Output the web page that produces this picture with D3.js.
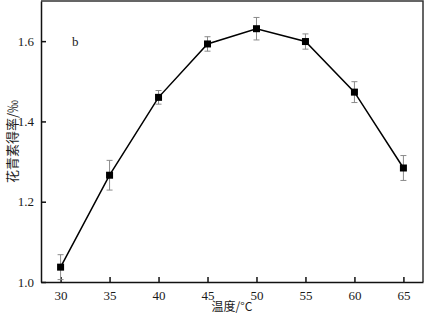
<!DOCTYPE html>
<html>
<head>
<meta charset="utf-8">
<script src="https://cdn.jsdelivr.net/npm/d3@7"></script>
<style>
  body { margin: 0; background: #fff; }
</style>
</head>
<body>
<svg id="chart" width="425" height="316"></svg>
<script>
// temperature (°C) vs anthocyanin yield (‰)
var temps = [30, 35, 40, 45, 50, 55, 60, 65];
var yields = [1.037, 1.266, 1.460, 1.593, 1.631, 1.599, 1.473, 1.284];
var errs = [0.031, 0.037, 0.017, 0.018, 0.028, 0.019, 0.026, 0.031];
var xTicks = [30, 35, 40, 45, 50, 55, 60, 65];
var yTicks = [1.0, 1.2, 1.4, 1.6];

var serif = "'Liberation Serif', 'DejaVu Serif', serif";
var cjk = "'Noto Sans CJK SC', 'Liberation Serif', serif";

var margin = {top: 1, right: 2, bottom: 34, left: 41};
var width = 425 - margin.left - margin.right,
    height = 316 - margin.top - margin.bottom;

var svg = d3.select("#chart");
var g = svg.append("g").attr("transform", "translate(" + margin.left + "," + margin.top + ")");

var x = d3.scaleLinear().domain([28, 67]).range([0, width]);
var y = d3.scaleLinear().domain([1.0, 1.7]).range([height, 0]);

var data = temps.map(function(t, i) { return {t: t, v: yields[i], e: errs[i]}; });

// frame (top + right)
g.append("path")
  .attr("d", "M0,0H" + width + "V" + height)
  .attr("fill", "none")
  .attr("stroke", "#333")
  .attr("stroke-width", 1.5);

// axes, ticks pointing inward
var xAxis = g.append("g")
  .attr("transform", "translate(0," + height + ")")
  .call(d3.axisBottom(x).tickValues(xTicks).tickSizeInner(-5).tickSizeOuter(0).tickPadding(9));
var yAxis = g.append("g")
  .call(d3.axisLeft(y).tickValues(yTicks).tickSizeInner(-5).tickSizeOuter(0).tickPadding(7)
    .tickFormat(d3.format(".1f")));

[xAxis, yAxis].forEach(function(a) {
  a.select(".domain").attr("stroke", "#111").attr("stroke-width", 1.5);
  a.selectAll(".tick line").attr("stroke", "#111").attr("stroke-width", 1.5);
  a.selectAll("text")
    .style("font-family", serif)
    .style("font-size", "13px")
    .attr("fill", "#1a1a1a");
});

// error bars
var eb = g.append("g").attr("stroke", "#8a8a8a").attr("stroke-width", 1);
eb.selectAll("path")
  .data(data)
  .enter().append("path")
    .attr("fill", "none")
    .attr("d", function(d) {
      var cx = x(d.t), y0 = y(d.v - d.e), y1 = y(d.v + d.e);
      return "M" + (cx - 3) + "," + y1 + "H" + (cx + 3) +
             "M" + cx + "," + y1 + "V" + y0 +
             "M" + (cx - 3) + "," + y0 + "H" + (cx + 3);
    });

// line
g.append("path")
  .datum(data)
  .attr("fill", "none")
  .attr("stroke", "#000")
  .attr("stroke-width", 1.5)
  .attr("d", d3.line().x(function(d) { return x(d.t); }).y(function(d) { return y(d.v); }));

// square markers
g.selectAll(".pt")
  .data(data)
  .enter().append("rect")
    .attr("class", "pt")
    .attr("x", function(d) { return x(d.t) - 3.5; })
    .attr("y", function(d) { return y(d.v) - 3.5; })
    .attr("width", 7)
    .attr("height", 7)
    .attr("fill", "#000");

// panel letter
g.append("text")
  .attr("x", 31)
  .attr("y", 45)
  .style("font-family", serif)
  .style("font-size", "13px")
  .attr("fill", "#1a1a1a")
  .text("b");

// axis titles
svg.append("text")
  .attr("x", margin.left + width / 2)
  .attr("y", 311)
  .attr("text-anchor", "middle")
  .style("font-family", cjk)
  .style("font-size", "12px")
  .attr("fill", "#1a1a1a")
  .text("温度/°C");

svg.append("text")
  .attr("transform", "translate(17," + (margin.top + height / 2) + ") rotate(-90)")
  .attr("text-anchor", "middle")
  .style("font-family", cjk)
  .style("font-size", "13px")
  .attr("fill", "#1a1a1a")
  .text("花青素得率/‰");
</script>
</body>
</html>
